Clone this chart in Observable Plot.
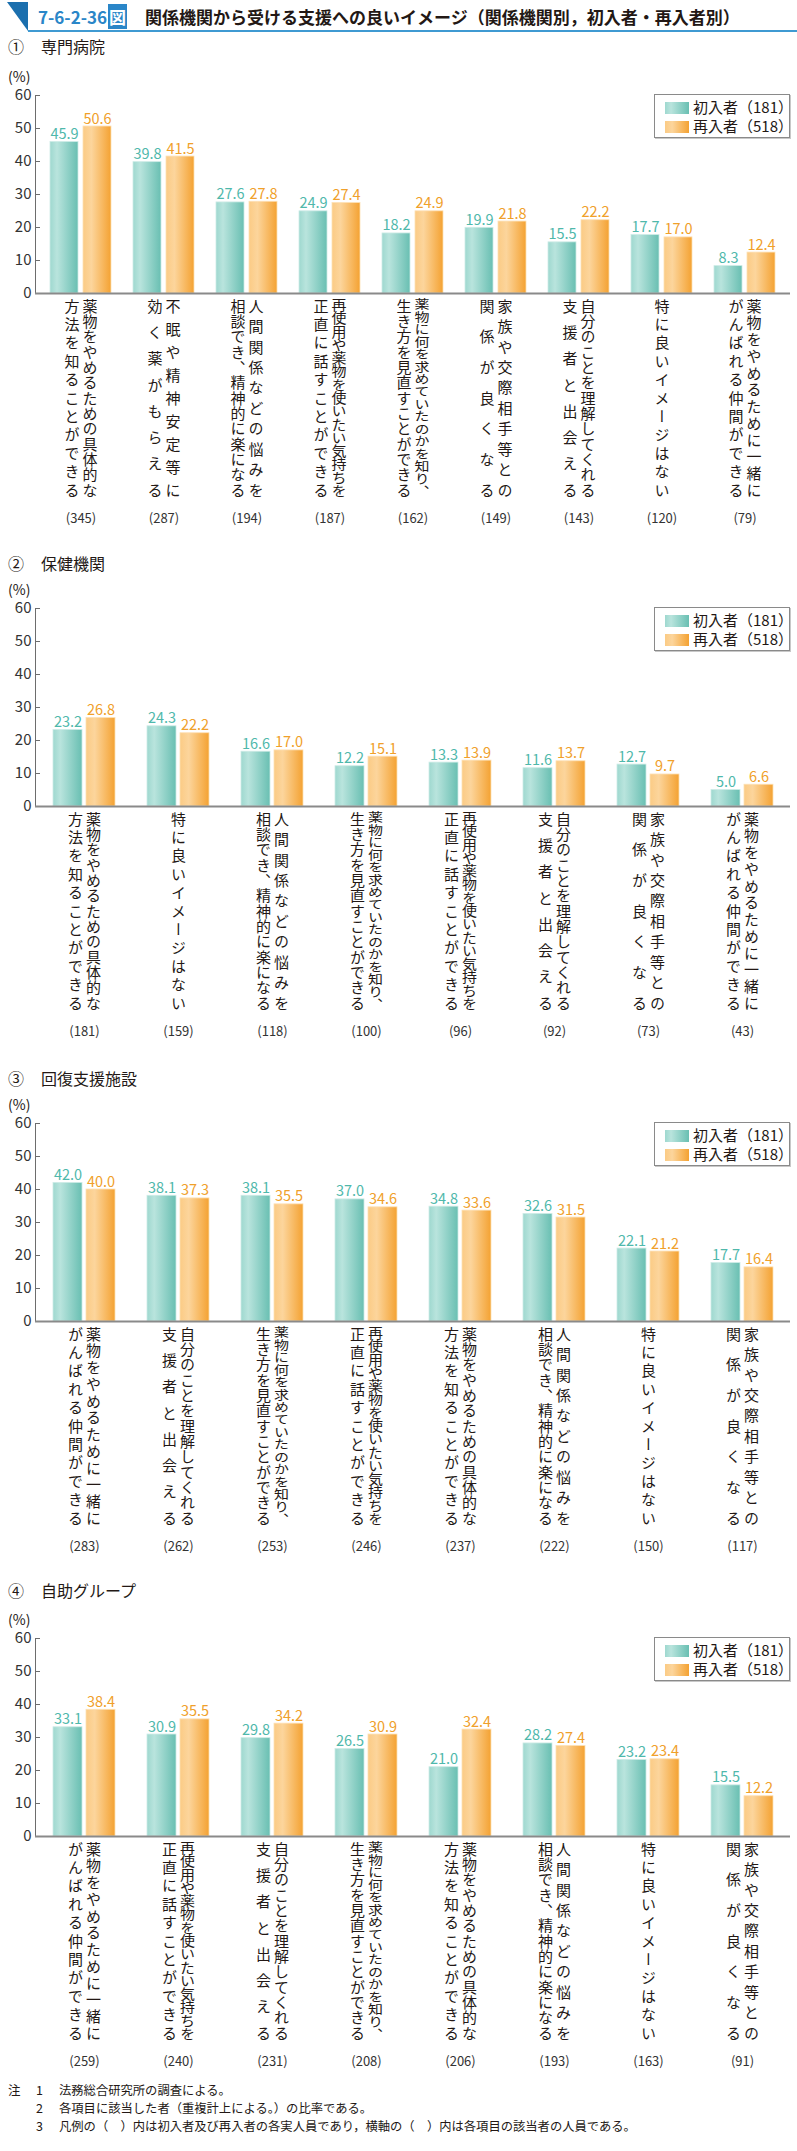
<!DOCTYPE html>
<html><head><meta charset="utf-8">
<script src="https://cdn.jsdelivr.net/npm/d3@7"></script>
<script src="https://cdn.jsdelivr.net/npm/@observablehq/plot@0.6"></script>
<style>
body{margin:0;background:#fff;}
#page{position:relative;width:797px;height:2151px;overflow:hidden;font-family:"Noto Sans CJK JP","Noto Sans",sans-serif;color:#231815;}
.abs{position:absolute;white-space:nowrap;line-height:1;}
.legend{position:absolute;width:134px;height:42px;border:1px solid #8a8a8a;box-shadow:1px 1px 0 #c8c8c8;background:#fff;}
.legend .row{position:absolute;left:10px;height:16px;font-size:15px;line-height:16px;white-space:nowrap;}
.legend .sw{display:inline-block;width:24px;height:12px;vertical-align:-1px;margin-right:4px;}
.swT{background:linear-gradient(to right,#9ed8cf 0%,#b9e4dd 25%,#69bfb2 100%);}
.swO{background:linear-gradient(to right,#fbcb85 0%,#fcd59c 30%,#f4a232 100%);}
</style></head><body>
<svg width="0" height="0" style="position:absolute"><defs>
<linearGradient id="gradT" x1="0" x2="1" y1="0" y2="0">
<stop offset="0" stop-color="#9ed8cf"/><stop offset="0.25" stop-color="#b9e4dd"/><stop offset="1" stop-color="#69bfb2"/>
</linearGradient>
<linearGradient id="gradO" x1="0" x2="1" y1="0" y2="0">
<stop offset="0" stop-color="#fbcb85"/><stop offset="0.3" stop-color="#fcd59c"/><stop offset="1" stop-color="#f4a232"/>
</linearGradient></defs></svg>
<div id="page"></div>
<script>
// ---- data ----
const itemLine1 = ["薬物をやめるための具体的な","不眠や精神安定等に","人間関係などの悩みを","再使用や薬物を使いたい気持ちを","薬物に何を求めていたのかを知り、","家族や交際相手等との","自分のことを理解してくれる","特に良いイメージはない","薬物をやめるために一緒に"];
const itemLine2 = ["方法を知ることができる","効く薬がもらえる","相談でき、精神的に楽になる","正直に話すことができる","生き方を見直すことができる","関係が良くなる","支援者と出会える","","がんばれる仲間ができる"];
const panelNums = ["①","②","③","④"];
const panelNames = ["専門病院","保健機関","回復支援施設","自助グループ"];
const seriesNames = ["初入者（181）","再入者（518）"];
const yTicks = [0,10,20,30,40,50,60];

const p1Order = [0,1,2,3,4,5,6,7,8];
const p1First = [45.9,39.8,27.6,24.9,18.2,19.9,15.5,17.7,8.3];
const p1Re    = [50.6,41.5,27.8,27.4,24.9,21.8,22.2,17.0,12.4];
const p1Count = [345,287,194,187,162,149,143,120,79];

const p2Order = [0,7,2,4,3,6,5,8];
const p2First = [23.2,24.3,16.6,12.2,13.3,11.6,12.7,5.0];
const p2Re    = [26.8,22.2,17.0,15.1,13.9,13.7,9.7,6.6];
const p2Count = [181,159,118,100,96,92,73,43];

const p3Order = [8,6,4,3,0,2,7,5];
const p3First = [42.0,38.1,38.1,37.0,34.8,32.6,22.1,17.7];
const p3Re    = [40.0,37.3,35.5,34.6,33.6,31.5,21.2,16.4];
const p3Count = [283,262,253,246,237,222,150,117];

const p4Order = [8,3,6,4,0,2,7,5];
const p4First = [33.1,30.9,29.8,26.5,21.0,28.2,23.2,15.5];
const p4Re    = [38.4,35.5,34.2,30.9,32.4,27.4,23.4,12.2];
const p4Count = [259,240,231,208,206,193,163,91];

const noteMarks = ["注","",""];
const noteNums = ["1","2","3"];
const noteTexts = ["法務総合研究所の調査による。","各項目に該当した者（重複計上による。）の比率である。","凡例の（　）内は初入者及び再入者の各実人員であり，横軸の（　）内は各項目の該当者の人員である。"];

// ---- layout ----
const panels = [
  {order:p1Order, first:p1First, re:p1Re, count:p1Count, top:95,  head:38,  pi:0.263, po:0.131},
  {order:p2Order, first:p2First, re:p2Re, count:p2Count, top:608, head:555, pi:0.345, po:0.158},
  {order:p3Order, first:p3First, re:p3Re, count:p3Count, top:1123,head:1070,pi:0.345, po:0.158},
  {order:p4Order, first:p4First, re:p4Re, count:p4Count, top:1638,head:1582,pi:0.345, po:0.158}
];
const page = document.getElementById("page");
function addDiv(html, left, top, style){
  const d=document.createElement("div"); d.className="abs"; d.innerHTML=html;
  d.style.left=left+"px"; d.style.top=top+"px"; if(style) d.style.cssText+=style; page.appendChild(d); return d;
}
// title
addDiv('<svg width="22" height="30"><polygon points="0,0 21,0 21,29" fill="#1b6fae"/></svg>',7,2);
addDiv('<span style="color:#2a86c8;font-weight:700">7-6-2-36</span><span style="background:#2a86c8;color:#fff;font-weight:700;padding:0 1px;margin-left:1px">図</span>',38,8,"font-size:17px;");
addDiv('関係機関から受ける支援への良いイメージ（関係機関別，初入者・再入者別）',145,8,"font-size:17px;font-weight:700;");
addDiv('',28,30,"width:769px;height:2px;background:#3f9ad2;");

const teal="#4fb8ab", orange="#f0a02a", ink="#231815";
const mT=12, plotH=198, mB=240, W=797, mL=35, mR=7;

panels.forEach((p,pi)=>{
  addDiv(panelNums[pi], 8, p.head, "font-size:16px;");
  addDiv(panelNames[pi], 41, p.head, "font-size:16px;");
  addDiv("(%)", 8, p.top-26, "font-size:14px;");
  const rows = p.order.map((id,i)=>({key:"k"+id, l1:itemLine1[id], l2:itemLine2[id], first:p.first[i], re:p.re[i], n:p.count[i]}));
  const two = rows.filter(r=>r.l2), one = rows.filter(r=>!r.l2);
  const fw = W-mL-mR;
  const svg = Plot.plot({
    width: W, height: mT+plotH+mB, marginTop: mT, marginBottom: mB, marginLeft: mL, marginRight: mR,
    style: {fontFamily:'"Noto Sans CJK JP","Noto Sans",sans-serif', background:"transparent", color:ink},
    x: {type:"band", domain: rows.map(r=>r.key), paddingInner:p.pi, paddingOuter:p.po, axis:null},
    y: {domain:[0,60], axis:null},
    marks: [
      Plot.barY(rows, {x:"key", y:"first", fill:"url(#gradT)", stroke:"#cdebe6", strokeWidth:0.8, insetRight:33}),
      Plot.barY(rows, {x:"key", y:"re", fill:"url(#gradO)", stroke:"#fde0b5", strokeWidth:0.8, insetLeft:33}),
      Plot.text(rows, {x:"key", y:"first", text:d=>d.first.toFixed(1), dx:-16.5, dy:-3, lineAnchor:"bottom", fill:teal, fontSize:14.5}),
      Plot.text(rows, {x:"key", y:"re", text:d=>d.re.toFixed(1), dx:16.5, dy:-3, lineAnchor:"bottom", fill:orange, fontSize:14.5}),
      Plot.frame({anchor:"left", stroke:"#6d6d6d"}),
      Plot.ruleY(yTicks.filter(t=>t>0), {y:d=>d, insetRight:fw-5, stroke:"#6d6d6d"}),
      Plot.ruleY([0], {stroke:"#8a8a8a", strokeWidth:2}),
      Plot.axisY(yTicks, {tickSize:0, tickPadding:4, fontSize:15, label:null, color:"#333"}),
      Plot.text(two, {x:"key", text:"l1", frameAnchor:"bottom", dx:9, dy:5, textAnchor:"start", fontSize:15, fill:ink, ariaDescription:"vcol"}),
      Plot.text(two, {x:"key", text:"l2", frameAnchor:"bottom", dx:-9, dy:5, textAnchor:"start", fontSize:15, fill:ink, ariaDescription:"vcol"}),
      Plot.text(one, {x:"key", text:"l1", frameAnchor:"bottom", dx:0, dy:5, textAnchor:"start", fontSize:15, fill:ink, ariaDescription:"vcol"}),
      Plot.text(rows, {x:"key", text:d=>`(${d.n})`, frameAnchor:"bottom", dy:229, fontSize:13, fill:"#333"})
    ]
  });
  // vertical (tategaki) labels, justified over the column height
  const H=199;
  svg.querySelectorAll('g[aria-description="vcol"] text').forEach(t=>{
    const chars=[...t.textContent]; const n=chars.length; const fs=15;
    let k=1, pitch;
    if(n*fs>H){k=H/(n*fs); pitch=fs;} else pitch = n>1 ? (H-fs)/(n-1) : 0;
    t.setAttribute("x","0");
    t.setAttribute("y", chars.map((c,i)=>(i*pitch).toFixed(2)).join(" "));
    t.setAttribute("writing-mode","vertical-rl");
    t.style.writingMode="vertical-rl";
    if(k!==1) t.setAttribute("transform",(t.getAttribute("transform")||"")+` scale(1,${k.toFixed(4)})`);
  });
  svg.style.position="absolute"; svg.style.left="0px"; svg.style.top=(p.top-mT)+"px";
  page.appendChild(svg);
  // legend
  const lg=document.createElement("div"); lg.className="legend";
  lg.style.left="654px"; lg.style.top=(p.top-1)+"px";
  lg.innerHTML=`<div class="row" style="top:4px"><span class="sw swT"></span>${seriesNames[0]}</div><div class="row" style="top:23px"><span class="sw swO"></span>${seriesNames[1]}</div>`;
  page.appendChild(lg);
});
// notes
noteTexts.forEach((t,i)=>{
  const y=2084+i*18;
  if(noteMarks[i]) addDiv(noteMarks[i],8,y,"font-size:12.5px;");
  addDiv(noteNums[i],36,y,"font-size:12.5px;");
  addDiv(t,59,y,"font-size:12.3px;");
});
</script></body></html>
